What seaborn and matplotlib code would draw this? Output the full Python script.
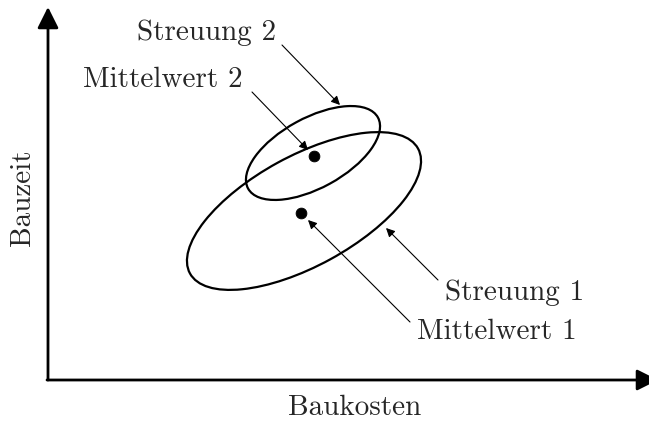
import matplotlib
matplotlib.use("Agg")
import matplotlib.pyplot as plt
import seaborn as sns
import pandas as pd
from matplotlib.patches import Ellipse

# ---- data (coordinates relative to axis origin) ----
mean_labels = ["Mittelwert 1", "Mittelwert 2"]
mean_x = [253, 266]
mean_y = [167, 224]

ell_cx = [256, 265]
ell_cy = [169, 227]
ell_w = [260, 148]
ell_h = [110, 70]
ell_angle = [28.7, 28.7]

ann_text = ["Streuung 2", "Mittelwert 2", "Streuung 1", "Mittelwert 1"]
ann_tx = [159, 115, 467, 449]
ann_ty = [347, 300, 87, 48]
ann_sx = [234, 204, 390, 362]
ann_sy = [335, 288, 100, 58]
ann_ex = [292, 260, 338, 260]
ann_ey = [275, 230, 152, 160]

x_label = "Baukosten"
y_label = "Bauzeit"

sns.set_theme(style="white")
plt.rcParams["font.family"] = ["cmr10", "DejaVu Serif"]
plt.rcParams["axes.formatter.use_mathtext"] = True

fig = plt.figure(figsize=(6.49, 4.21), dpi=100)
ax = fig.add_axes([0, 0, 1, 1])
ax.set_xlim(-48, 601)
ax.set_ylim(-41, 380)
ax.axis("off")

fs = 21

# axes arrows
ax.annotate("", xy=(0, 373), xytext=(0, 0),
            arrowprops=dict(arrowstyle="-|>", lw=2.0, color="black",
                            mutation_scale=32, shrinkA=0, shrinkB=0),
            annotation_clip=False)
ax.annotate("", xy=(610, 0), xytext=(-1, 0),
            arrowprops=dict(arrowstyle="-|>", lw=2.0, color="black",
                            mutation_scale=32, shrinkA=0, shrinkB=0),
            annotation_clip=False)

# ellipses
for cx, cy, w, h, a in zip(ell_cx, ell_cy, ell_w, ell_h, ell_angle):
    ax.add_patch(Ellipse((cx, cy), w, h, angle=a, fill=False,
                         lw=1.6, edgecolor="black"))

# means
df = pd.DataFrame({"x": mean_x, "y": mean_y, "label": mean_labels})
sns.scatterplot(data=df, x="x", y="y", color="black", s=60,
                edgecolor="black", ax=ax, legend=False, zorder=5)

# annotations
for t, tx, ty, sx, sy, ex, ey in zip(ann_text, ann_tx, ann_ty, ann_sx,
                                     ann_sy, ann_ex, ann_ey):
    ax.text(tx, ty, t, fontsize=fs, ha="center", va="center")
    ax.annotate("", xy=(ex, ey), xytext=(sx, sy),
                arrowprops=dict(arrowstyle="-|>", lw=0.8, color="black",
                                mutation_scale=13, shrinkA=0, shrinkB=0))

ax.text(307, -28, x_label, fontsize=fs, ha="center", va="center")
ax.text(-25, 182, y_label, fontsize=fs, ha="center", va="center",
        rotation=90)

ax.set_xlabel("")
ax.set_ylabel("")
fig.savefig("out.png", dpi=100)
